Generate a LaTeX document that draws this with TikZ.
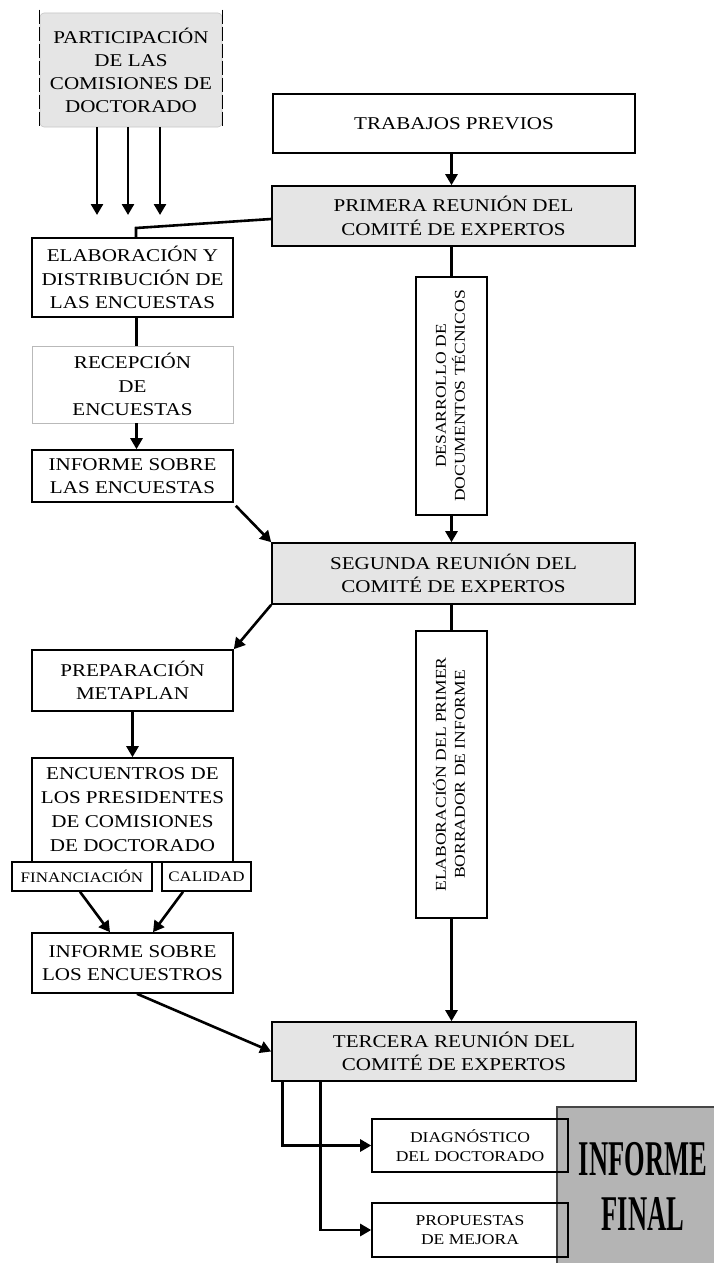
\documentclass[tikz,border=0pt]{standalone}
\usepackage{fontspec}
\setmainfont{Liberation Serif}
\newfontfamily\tf[FakeStretch=1.17]{Liberation Serif}
\newfontfamily\bigf[FakeStretch=0.53]{Liberation Serif}
\usetikzlibrary{arrows.meta}
\definecolor{lgrey}{RGB}{229,229,229}
\definecolor{dgrey}{RGB}{180,180,180}
\begin{document}
\begin{tikzpicture}[x=1pt,y=-1pt,
  box/.style={draw=black, line width=1.6pt, fill=white, align=center, inner sep=0pt, font=\tf\fontsize{18}{23.5}\selectfont},
  gbox/.style={box, fill=lgrey},
  vbox/.style={box, font=\tf\fontsize{15}{19}\selectfont},
  sbox/.style={box, fill=none, font=\tf\fontsize{15}{19}\selectfont},
  tbox/.style={box, font=\tf\fontsize{14.5}{18}\selectfont},
  arr/.style={line width=2.6pt, -{Triangle[length=11pt,width=12pt]}},
  ln/.style={line width=2.6pt},
]
\useasboundingbox (0,0) rectangle (713,1263);

% participation box
\node[fill=lgrey, draw=gray!45, line width=0.6pt, rounded corners=4pt, align=center, inner sep=0pt,
      minimum width=182pt, minimum height=114pt, font=\tf\fontsize{18}{23}\selectfont] (part) at (131,70)
  {PARTICIPACIÓN\\DE LAS\\COMISIONES DE\\DOCTORADO};
\draw[line width=1.2pt, dash pattern=on 14pt off 3pt] ([yshift=3pt]part.north west) -- (part.south west);
\draw[line width=1.2pt, dash pattern=on 14pt off 3pt] ([yshift=3pt]part.north east) -- (part.south east);

% right column
\node[box, minimum width=362pt, minimum height=59pt] (trab) at (454,123.5) {TRABAJOS PREVIOS};
\node[gbox, minimum width=363pt, minimum height=60pt] (prim) at (453.5,216) {PRIMERA REUNIÓN DEL\\COMITÉ DE EXPERTOS};
\node[vbox, minimum width=71pt, minimum height=238pt] (desa) at (451.5,396)
  {\rotatebox{90}{\begin{tabular}{@{}c@{}}DESARROLLO DE\\DOCUMENTOS TÉCNICOS\end{tabular}}};
\node[gbox, minimum width=363pt, minimum height=61pt] (seg) at (453.5,573.5) {SEGUNDA REUNIÓN DEL\\COMITÉ DE EXPERTOS};
\node[vbox, minimum width=71pt, minimum height=287pt] (borr) at (451.5,774.5)
  {\rotatebox{90}{\begin{tabular}{@{}c@{}}ELABORACIÓN DEL PRIMER\\BORRADOR DE INFORME\end{tabular}}};
\node[gbox, minimum width=364pt, minimum height=59pt] (terc) at (454,1051.5) {TERCERA REUNIÓN DEL\\COMITÉ DE EXPERTOS};

% left column
\node[box, minimum width=201pt, minimum height=79pt] (elab) at (132.5,277.5) {ELABORACIÓN Y\\DISTRIBUCIÓN DE\\LAS ENCUESTAS};
\node[box, draw=gray!55, line width=0.8pt, minimum width=201pt, minimum height=77pt] (recep) at (132.5,384.5) {RECEPCIÓN\\DE\\ENCUESTAS};
\node[box, minimum width=201pt, minimum height=52pt] (infenc) at (132.5,476) {INFORME SOBRE\\LAS ENCUESTAS};
\node[box, minimum width=201pt, minimum height=61pt] (prep) at (132.5,680.5) {PREPARACIÓN\\METAPLAN};
\node[box, minimum width=201pt, minimum height=104pt, font=\tf\fontsize{18}{24}\selectfont] (encu) at (132.5,810) {ENCUENTROS DE\\LOS PRESIDENTES\\DE COMISIONES\\DE DOCTORADO};
\node[tbox, minimum width=140pt, minimum height=29pt] (fin) at (82,876.5) {FINANCIACIÓN};
\node[tbox, minimum width=89pt, minimum height=29pt] (cal) at (206.5,876.5) {CALIDAD};
\node[box, minimum width=201pt, minimum height=60pt] (infenc2) at (132.5,963) {INFORME SOBRE\\LOS ENCUESTROS};

% final
\node[draw=gray!55!black, line width=1.4pt, fill=dgrey, minimum width=172pt, minimum height=158pt, inner sep=0pt,
      align=center, font=\bigf\bfseries\fontsize{50}{55}\selectfont] (final) at (643,1186) {INFORME\\FINAL};
\node[sbox, minimum width=196pt, minimum height=53pt] (diag) at (470,1145.5) {DIAGNÓSTICO\\DEL DOCTORADO};
\node[sbox, minimum width=196pt, minimum height=54pt] (prop) at (470,1230) {PROPUESTAS\\DE MEJORA};

% connectors
\coordinate (p1) at (97,215);
\coordinate (p2) at (128,215);
\coordinate (p3) at (160,215);
\draw[arr] (part.south -| p1) -- (p1);
\draw[arr] (part.south -| p2) -- (p2);
\draw[arr] (part.south -| p3) -- (p3);

\draw[arr] (desa.north |- trab.south) -- (desa.north |- prim.north);
\coordinate (k1) at (136,228);
\draw[ln] ([yshift=-3pt]prim.west) -- (k1) -- (k1 |- elab.north);
\draw[ln] ([xshift=4pt]elab.south) -- ([xshift=4pt]recep.north);
\draw[arr] ([xshift=4pt]recep.south) -- ([xshift=4pt]infenc.north);
\draw[arr] ([xshift=2pt,yshift=-3pt]infenc.south east) -- (seg.north west);
\draw[ln] (desa.north |- prim.south) -- (desa.north);
\draw[arr] (desa.south) -- (desa.south |- seg.north);
\draw[arr] (seg.south west) -- (prep.north east);
\draw[ln] (borr.north |- seg.south) -- (borr.north);
\draw[arr] (prep.south) -- (encu.north);
\draw[arr] ([xshift=-2pt]fin.south) -- ([xshift=-22.5pt]infenc2.north);
\draw[arr] ([xshift=-23.5pt]cal.south) -- ([xshift=20.5pt]infenc2.north);
\draw[arr] ([xshift=4.5pt]infenc2.south) -- (terc.west);
\draw[arr] (borr.south) -- (borr.south |- terc.north);
\draw[arr] ([xshift=11pt]terc.south west) |- (diag.west);
\draw[arr] ([xshift=49pt]terc.south west) |- (prop.west);
\end{tikzpicture}
\end{document}
